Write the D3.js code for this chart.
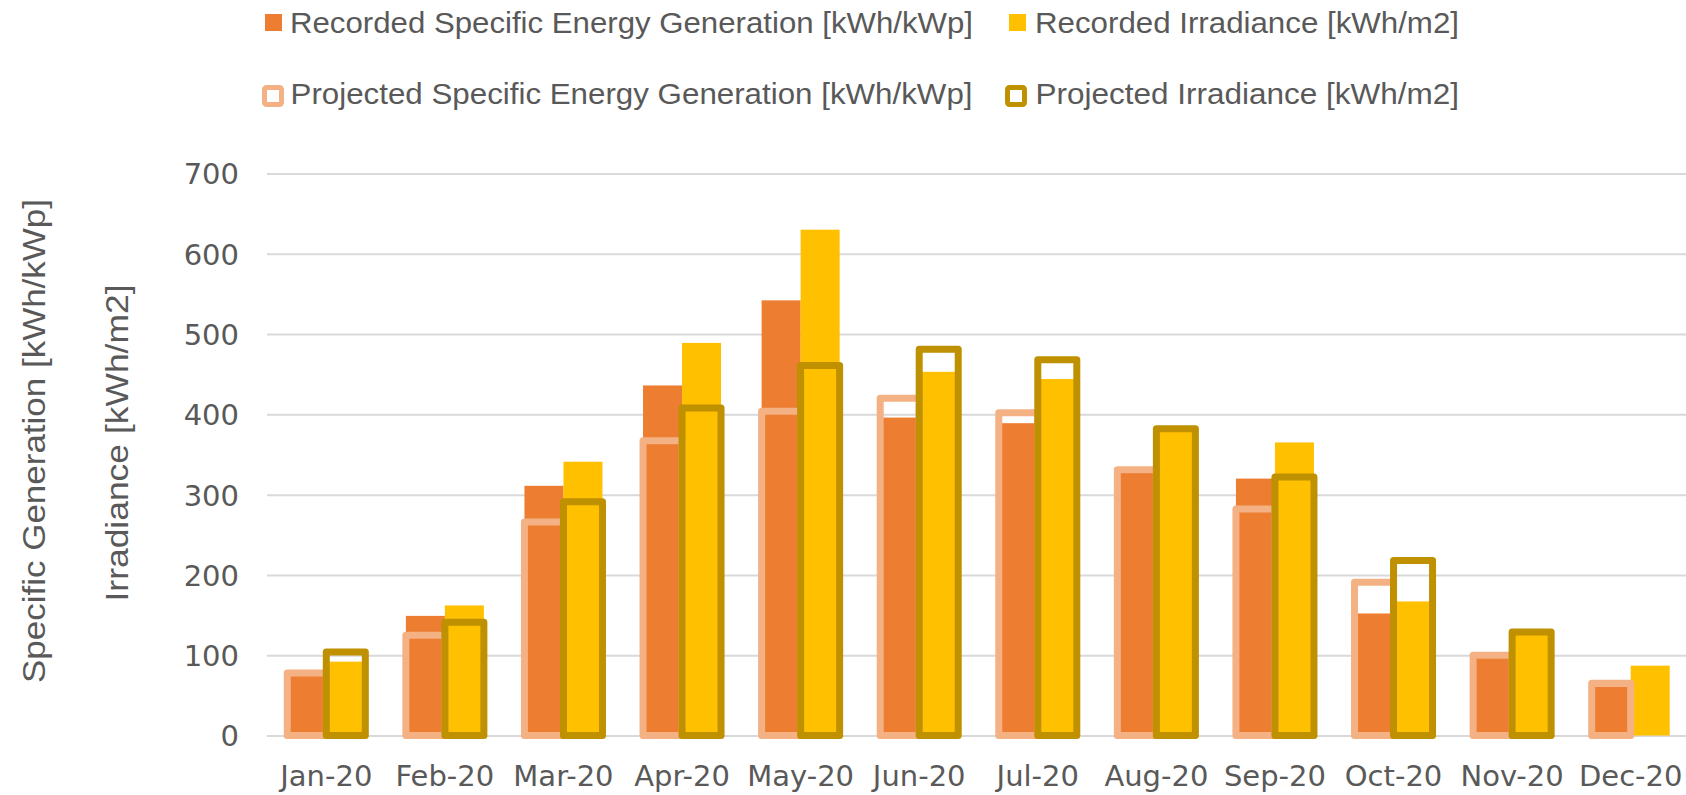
<!DOCTYPE html>
<html><head><meta charset="utf-8">
<script src="https://cdn.jsdelivr.net/npm/d3@7"></script>
<style>body{margin:0;background:#fff;overflow:hidden}</style>
</head><body>
<svg id="chart" width="1686" height="795"></svg>
<script>
const months = ["Jan-20","Feb-20","Mar-20","Apr-20","May-20","Jun-20","Jul-20","Aug-20","Sep-20","Oct-20","Nov-20","Dec-20"];
const recordedSEG = [75,149,311,436,542,396,389,330,320,152,97,61];
const projectedSEG = [78,125,266,367,404,420,402,331,282,191,100,65];
const recordedIrr = [92,162,341,489,630,453,444,380,365,167,127,87];
const projectedIrr = [104,141,291,408,461,481,468,382,322,218,129,null];
const yTicks = [0,100,200,300,400,500,600,700];
const legendLabels = [
  "Recorded Specific Energy Generation [kWh/kWp]",
  "Recorded Irradiance [kWh/m2]",
  "Projected Specific Energy Generation [kWh/kWp]",
  "Projected Irradiance [kWh/m2]"
];
const yTitle1 = "Specific Generation [kWh/kWp]";
const yTitle2 = "Irradiance [kWh/m2]";

const C = {orange:"#ED7D31", gold:"#FFC000", lightOrange:"#F4B183", darkGold:"#BF9000", grid:"#D9D9D9", text:"#595959"};
const svg = d3.select("#chart");

const x = d3.scaleBand().domain(months).range([267, 1690]).paddingInner(0.342).paddingOuter(0.171);
const xs = d3.scaleBand().domain(["seg","irr"]).range([0, x.bandwidth()]);
const y = d3.scaleLinear().domain([0,700]).range([735.5, 173.5]);

// gridlines + y tick labels via axis
const yAxis = d3.axisLeft(y).tickValues(yTicks).tickSize(-(1686-267)).tickPadding(28);
const ga = svg.append("g").attr("transform","translate(267,0)").call(yAxis);
ga.select(".domain").remove();
ga.selectAll(".tick line").attr("stroke", C.grid).attr("stroke-width", 2);
ga.selectAll(".tick text").attr("fill", C.text).attr("font-family","DejaVu Sans, sans-serif")
  .attr("font-size", 29).attr("dy","0.36em");

// x axis labels
const xAxis = d3.axisBottom(x).tickSize(0).tickPadding(0);
const gx = svg.append("g").attr("transform","translate(0,735.5)").call(xAxis);
gx.select(".domain").remove();
gx.selectAll(".tick text").attr("fill", C.text).attr("font-family","DejaVu Sans, sans-serif")
  .attr("font-size", 29).attr("dy", null).attr("y", 50);

const rows = months.map((m,i)=>({m, rs:recordedSEG[i], ps:projectedSEG[i], ri:recordedIrr[i], pi:projectedIrr[i]}));

// recorded fills
svg.append("g").selectAll("rect").data(rows).join("rect")
  .attr("x", d=>x(d.m)+xs("seg")).attr("width", xs.bandwidth())
  .attr("y", d=>y(d.rs)).attr("height", d=>y(0)-y(d.rs)).attr("fill", C.orange);
svg.append("g").selectAll("rect").data(rows).join("rect")
  .attr("x", d=>x(d.m)+xs("irr")).attr("width", xs.bandwidth())
  .attr("y", d=>y(d.ri)).attr("height", d=>y(0)-y(d.ri)).attr("fill", C.gold);

// projected outlines
svg.append("g").selectAll("rect").data(rows.filter(d=>d.ps!=null)).join("rect")
  .attr("x", d=>x(d.m)+xs("seg")).attr("width", xs.bandwidth())
  .attr("y", d=>y(d.ps)).attr("height", d=>y(0)-y(d.ps))
  .attr("fill","none").attr("stroke", C.lightOrange).attr("stroke-width", 7).attr("stroke-linejoin","round");
svg.append("g").selectAll("rect").data(rows.filter(d=>d.pi!=null)).join("rect")
  .attr("x", d=>x(d.m)+xs("irr")).attr("width", xs.bandwidth())
  .attr("y", d=>y(d.pi)).attr("height", d=>y(0)-y(d.pi))
  .attr("fill","none").attr("stroke", C.darkGold).attr("stroke-width", 7).attr("stroke-linejoin","round");

// legend
const legendFont = "Liberation Sans Narrow, Liberation Sans, Arial, sans-serif";
const leg = [
  {label:legendLabels[0], type:"fill", color:C.orange, mx:265, tx:290, base:33, len:683},
  {label:legendLabels[1], type:"fill", color:C.gold, mx:1009, tx:1035, base:33, len:424},
  {label:legendLabels[2], type:"outline", color:C.lightOrange, mx:264.5, tx:290.5, base:104, len:682},
  {label:legendLabels[3], type:"outline", color:C.darkGold, mx:1007.5, tx:1035.5, base:104, len:423.5}
];
const lg = svg.append("g");
leg.forEach(l=>{
  if(l.type==="fill"){
    lg.append("rect").attr("x", l.mx).attr("y", 14).attr("width",17).attr("height",17).attr("fill", l.color);
  } else {
    lg.append("rect").attr("x", l.mx).attr("y", 87.5).attr("width",17).attr("height",17)
      .attr("fill","#fff").attr("stroke", l.color).attr("stroke-width",5).attr("rx",2);
  }
  lg.append("text").attr("x", l.tx).attr("y", l.base).text(l.label)
    .attr("font-family", legendFont).attr("font-size", 29).attr("fill", C.text)
    .attr("textLength", l.len).attr("lengthAdjust","spacingAndGlyphs");
});

// y titles
svg.append("text").attr("transform","translate(45,441) rotate(-90)").attr("text-anchor","middle")
  .text(yTitle1).attr("font-family", legendFont).attr("font-size", 31).attr("fill", C.text)
  .attr("textLength", 484).attr("lengthAdjust","spacingAndGlyphs");
svg.append("text").attr("transform","translate(128,443) rotate(-90)").attr("text-anchor","middle")
  .text(yTitle2).attr("font-family", legendFont).attr("font-size", 31).attr("fill", C.text)
  .attr("textLength", 317).attr("lengthAdjust","spacingAndGlyphs");
</script>
</body></html>
